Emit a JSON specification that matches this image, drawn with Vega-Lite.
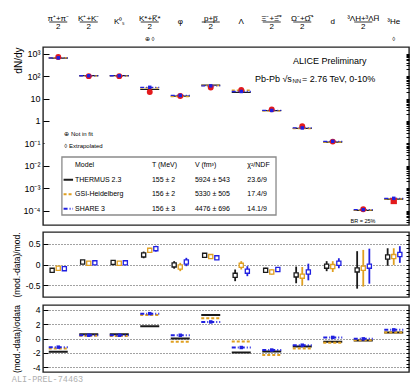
{
"$schema":"https://vega.github.io/schema/vega-lite/v6.json",
"padding":{"left":11,"top":13,"right":7,"bottom":0},
"config":{"font":"Liberation Sans","view":{"stroke":"#222","strokeWidth":1.4},"axis":{"labelFont":"Liberation Sans","titleFont":"Liberation Sans","labelColor":"#000","titleColor":"#000","titleFontWeight":"normal","domain":false,"tickColor":"#000","tickWidth":1},"text":{"font":"Liberation Sans"}},
"spacing":5,
"title":{"text":"ALI-PREL-74463","orient":"bottom","anchor":"start","font":"Liberation Mono","fontSize":8.5,"fontWeight":"normal","color":"#b0b0b0","offset":2},
"datasets":{
"species":[
{"i":0,"sp":"pi","num":"π⁺+π⁻","den":"2","single":null,"sym":null,"val":720},
{"i":1,"sp":"K","num":"K⁺+K⁻","den":"2","single":null,"sym":null,"val":100},
{"i":2,"sp":"K0s","num":null,"den":null,"single":"K⁰ₛ","sym":null,"val":100},
{"i":3,"sp":"Kstar","num":"K*+K̅*","den":"2","single":null,"sym":"⊕ ◊","val":19.7},
{"i":4,"sp":"phi","num":null,"den":null,"single":"φ","sym":null,"val":13},
{"i":5,"sp":"p","num":"p+p̅","den":"2","single":null,"sym":null,"val":31},
{"i":6,"sp":"Lambda","num":null,"den":null,"single":"Λ","sym":null,"val":24},
{"i":7,"sp":"Xi","num":"Ξ⁻+Ξ̅⁺","den":"2","single":null,"sym":null,"val":3.3},
{"i":8,"sp":"Omega","num":"Ω⁻+Ω̅⁺","den":"2","single":null,"sym":null,"val":0.58},
{"i":9,"sp":"d","num":null,"den":null,"single":"d","sym":null,"val":0.12},
{"i":10,"sp":"H3L","num":"³ΛH+³ΛH̅","den":"2","single":null,"sym":null,"val":0.000115},
{"i":11,"sp":"He3","num":null,"den":null,"single":"³He","sym":"◊","val":0.00027}
],
"models":[
{"i":0,"sp":"pi","model":"THERMUS","dndy":632,"r":-0.14,"lo":-0.17,"hi":-0.11,"s":-1.85},
{"i":0,"sp":"pi","model":"GSI","dndy":661,"r":-0.09,"lo":-0.12,"hi":-0.06,"s":-1.4},
{"i":0,"sp":"pi","model":"SHARE","dndy":655,"r":-0.10,"lo":-0.13,"hi":-0.07,"s":-1.2},
{"i":1,"sp":"K","model":"THERMUS","dndy":106,"r":0.06,"lo":0.03,"hi":0.09,"s":0.6},
{"i":1,"sp":"K","model":"GSI","dndy":103,"r":0.03,"lo":0.0,"hi":0.06,"s":0.37},
{"i":1,"sp":"K","model":"SHARE","dndy":104,"r":0.04,"lo":0.01,"hi":0.07,"s":0.45},
{"i":2,"sp":"K0s","model":"THERMUS","dndy":105,"r":0.05,"lo":0.02,"hi":0.08,"s":0.6},
{"i":2,"sp":"K0s","model":"GSI","dndy":103,"r":0.03,"lo":0.0,"hi":0.06,"s":0.35},
{"i":2,"sp":"K0s","model":"SHARE","dndy":104,"r":0.04,"lo":0.01,"hi":0.07,"s":0.45},
{"i":3,"sp":"Kstar","model":"THERMUS","dndy":25.6,"r":0.23,"lo":0.15,"hi":0.31,"s":1.7},
{"i":3,"sp":"Kstar","model":"GSI","dndy":29.8,"r":0.34,"lo":0.28,"hi":0.40,"s":3.25},
{"i":3,"sp":"Kstar","model":"SHARE","dndy":31.8,"r":0.38,"lo":0.31,"hi":0.45,"s":3.45},
{"i":4,"sp":"phi","model":"THERMUS","dndy":12.9,"r":-0.01,"lo":-0.10,"hi":0.08,"s":0.0},
{"i":4,"sp":"phi","model":"GSI","dndy":12.3,"r":-0.06,"lo":-0.16,"hi":0.04,"s":-0.45},
{"i":4,"sp":"phi","model":"SHARE","dndy":13.8,"r":0.06,"lo":-0.04,"hi":0.16,"s":0.45},
{"i":5,"sp":"p","model":"THERMUS","dndy":39.7,"r":0.22,"lo":0.19,"hi":0.25,"s":3.25},
{"i":5,"sp":"p","model":"GSI","dndy":38.3,"r":0.19,"lo":0.16,"hi":0.22,"s":2.8},
{"i":5,"sp":"p","model":"SHARE","dndy":36.9,"r":0.16,"lo":0.13,"hi":0.19,"s":2.3},
{"i":6,"sp":"Lambda","model":"THERMUS","dndy":19.0,"r":-0.26,"lo":-0.40,"hi":-0.12,"s":-1.95},
{"i":6,"sp":"Lambda","model":"GSI","dndy":23.5,"r":-0.02,"lo":-0.12,"hi":0.08,"s":-0.4},
{"i":6,"sp":"Lambda","model":"SHARE","dndy":20.7,"r":-0.16,"lo":-0.28,"hi":-0.04,"s":-1.25},
{"i":7,"sp":"Xi","model":"THERMUS","dndy":2.89,"r":-0.14,"lo":-0.20,"hi":-0.08,"s":-1.8},
{"i":7,"sp":"Xi","model":"GSI","dndy":2.80,"r":-0.18,"lo":-0.24,"hi":-0.12,"s":-2.3},
{"i":7,"sp":"Xi","model":"SHARE","dndy":2.95,"r":-0.12,"lo":-0.18,"hi":-0.06,"s":-1.6},
{"i":8,"sp":"Omega","model":"THERMUS","dndy":0.464,"r":-0.25,"lo":-0.45,"hi":-0.05,"s":-1.1},
{"i":8,"sp":"Omega","model":"GSI","dndy":0.453,"r":-0.28,"lo":-0.50,"hi":-0.06,"s":-1.4},
{"i":8,"sp":"Omega","model":"SHARE","dndy":0.49,"r":-0.18,"lo":-0.38,"hi":0.02,"s":-0.93},
{"i":9,"sp":"d","model":"THERMUS","dndy":0.115,"r":-0.04,"lo":-0.16,"hi":0.08,"s":-0.45},
{"i":9,"sp":"d","model":"GSI","dndy":0.114,"r":-0.05,"lo":-0.18,"hi":0.08,"s":-0.6},
{"i":9,"sp":"d","model":"SHARE","dndy":0.124,"r":0.03,"lo":-0.09,"hi":0.15,"s":0.15},
{"i":10,"sp":"H3L","model":"THERMUS","dndy":0.000102,"r":-0.13,"lo":-0.58,"hi":0.32,"s":-0.28},
{"i":10,"sp":"H3L","model":"GSI","dndy":0.0001055,"r":-0.09,"lo":-0.53,"hi":0.35,"s":-0.25},
{"i":10,"sp":"H3L","model":"SHARE","dndy":0.0001105,"r":-0.04,"lo":-0.46,"hi":0.38,"s":-0.05},
{"i":11,"sp":"He3","model":"THERMUS","dndy":0.000329,"r":0.18,"lo":-0.03,"hi":0.39,"s":0.83},
{"i":11,"sp":"He3","model":"GSI","dndy":0.000333,"r":0.19,"lo":-0.01,"hi":0.39,"s":0.85},
{"i":11,"sp":"He3","model":"SHARE","dndy":0.000355,"r":0.24,"lo":0.04,"hi":0.44,"s":1.2}
],
"legend":[
{"row":0,"key":"hdr","model":"Model","T":"T (MeV)","V":"V (fm³)","chi2":"χ²/NDF"},
{"row":1,"key":"THERMUS","model":"THERMUS 2.3","T":"155 ± 2","V":"5924 ± 543","chi2":"23.6/9"},
{"row":2,"key":"GSI","model":"GSI-Heidelberg","T":"156 ± 2","V":"5330 ± 505","chi2":"17.4/9"},
{"row":3,"key":"SHARE","model":"SHARE 3","T":"156 ± 3","V":"4476 ± 696","chi2":"14.1/9"}
]
},
"vconcat":[
{
"width":366,"height":178,
"layer":[
{"layer":[
{"data":{"values":[{}]},"mark":{"type":"rect","fill":"white"},"encoding":{"x":{"datum":-0.45,"type":"quantitative","axis":null},"x2":{"datum":2.45},"y":{"datum":0.54,"type":"quantitative","axis":null},"y2":{"datum":0.0248}}},
{"data":{"values":[{}]},"mark":{"type":"rect","fill":"white","stroke":"#8a8a8a","strokeWidth":1.3},"encoding":{"x":{"datum":0.12,"type":"quantitative","axis":null},"x2":{"datum":7.14},"y":{"datum":0.02477,"type":"quantitative","axis":null},"y2":{"datum":0.0000641}}},
{"data":{"name":"models"},"mark":{"type":"point","shape":"M-1,0L1,0","size":361,"strokeWidth":1.3,"opacity":1},"encoding":{
"x":{"field":"i","type":"quantitative","scale":{"domain":[-0.5,11.5],"nice":false,"zero":false},"axis":{"orient":"bottom","values":[0.5,1.5,2.5,3.5,4.5,5.5,6.5,7.5,8.5,9.5,10.5],"grid":true,"gridDash":[1,2],"gridColor":"#888","labels":false,"ticks":false,"domain":false,"title":null}},
"y":{"field":"dndy","type":"quantitative","scale":{"type":"log","domain":[0.0000229,1995],"nice":false},"axis":{"orient":"left","values":[0.0001,0.001,0.01,0.1,1,10,100,1000],"labelExpr":"datum.value >= 999 ? '10³' : datum.value >= 99 ? '10²' : datum.value >= 9 ? '10' : datum.value >= 0.9 ? '1' : datum.value >= 0.09 ? '10⁻¹' : datum.value >= 0.009 ? '10⁻²' : datum.value >= 0.0009 ? '10⁻³' : '10⁻⁴'","labelFontSize":9,"tickSize":-6,"labelPadding":9,"grid":false,"title":"dN/dy","titleFontSize":10,"titleAnchor":"end","titlePadding":0,"minExtent":20,"maxExtent":20}},
"color":{"field":"model","type":"nominal","scale":{"domain":["THERMUS","GSI","SHARE"],"range":["#1a1a1a","#e0a020","#2020e0"]},"legend":null},
"strokeDash":{"field":"model","type":"nominal","scale":{"domain":["THERMUS","GSI","SHARE"],"range":[[1,0],[3,2],[4,2,1,2]]},"legend":null}}},
{"data":{"name":"species"},"transform":[{"filter":"datum.i < 11"}],"mark":{"type":"point","shape":"circle","filled":true,"color":"#e31a1c","size":35,"opacity":1},"encoding":{"x":{"field":"i","type":"quantitative","axis":null},"y":{"field":"val","type":"quantitative","axis":{"orient":"right","values":[0.00003,0.00004,0.00005,0.00006,0.00007,0.00008,0.00009,0.0001,0.0002,0.0003,0.0004,0.0005,0.0006,0.0007,0.0008,0.0009,0.001,0.002,0.003,0.004,0.005,0.006,0.007,0.008,0.009,0.01,0.02,0.03,0.04,0.05,0.06,0.07,0.08,0.09,0.1,0.2,0.3,0.4,0.5,0.6,0.7,0.8,0.9,1,2,3,4,5,6,7,8,9,10,20,30,40,50,60,70,80,90,100,200,300,400,500,600,700,800,900,1000],"labels":false,"tickSize":-3,"grid":false,"title":null}}}},
{"data":{"name":"species"},"transform":[{"filter":"datum.i == 11"}],"mark":{"type":"point","shape":"square","filled":true,"color":"#e31a1c","size":40,"opacity":1},"encoding":{"x":{"field":"i","type":"quantitative","axis":null},"y":{"field":"val","type":"quantitative","axis":null}}},
{"data":{"name":"models"},"transform":[{"filter":"datum.model == 'SHARE'"}],"mark":{"type":"point","shape":"square","filled":true,"color":"#2020e0","size":12,"opacity":1},"encoding":{"x":{"field":"i","type":"quantitative","axis":null},"y":{"field":"dndy","type":"quantitative","axis":null}}},
{"data":{"name":"species"},"transform":[{"filter":"isValid(datum.num)"}],"mark":{"type":"text","fontSize":8,"baseline":"middle"},"encoding":{"x":{"field":"i","type":"quantitative","axis":null},"y":{"datum":37240,"type":"quantitative","axis":null},"text":{"field":"num"}}},
{"data":{"name":"species"},"transform":[{"filter":"isValid(datum.num)"}],"mark":{"type":"point","shape":"M-1,0L1,0","size":324,"strokeWidth":0.8,"color":"#000","opacity":1},"encoding":{"x":{"field":"i","type":"quantitative","axis":null},"y":{"datum":26000,"type":"quantitative","axis":null}}},
{"data":{"name":"species"},"transform":[{"filter":"isValid(datum.den)"}],"mark":{"type":"text","fontSize":8,"baseline":"middle"},"encoding":{"x":{"field":"i","type":"quantitative","axis":null},"y":{"datum":15560,"type":"quantitative","axis":null},"text":{"field":"den"}}},
{"data":{"name":"species"},"transform":[{"filter":"isValid(datum.single)"}],"mark":{"type":"text","fontSize":8,"baseline":"middle"},"encoding":{"x":{"field":"i","type":"quantitative","axis":null},"y":{"datum":26000,"type":"quantitative","axis":null},"text":{"field":"single"}}},
{"data":{"name":"species"},"transform":[{"filter":"isValid(datum.sym)"}],"mark":{"type":"text","fontSize":6,"baseline":"middle"},"encoding":{"x":{"field":"i","type":"quantitative","axis":null},"y":{"datum":4775,"type":"quantitative","axis":null},"text":{"field":"sym"}}},
{"data":{"values":[{}]},"mark":{"type":"text","fontSize":6,"align":"left","baseline":"middle","text":"⊕  Not in fit"},"encoding":{"x":{"datum":0.2,"type":"quantitative","axis":null},"y":{"datum":0.263,"type":"quantitative","axis":null}}},
{"data":{"values":[{}]},"mark":{"type":"text","fontSize":6,"align":"left","baseline":"middle","text":"◊  Extrapolated"},"encoding":{"x":{"datum":0.2,"type":"quantitative","axis":null},"y":{"datum":0.074,"type":"quantitative","axis":null}}},
{"data":{"values":[{}]},"mark":{"type":"text","fontSize":9,"align":"center","baseline":"middle","text":"ALICE Preliminary"},"encoding":{"x":{"datum":8.9,"type":"quantitative","axis":null},"y":{"datum":450,"type":"quantitative","axis":null}}},
{"data":{"values":[{}]},"mark":{"type":"text","fontSize":9,"align":"right","baseline":"middle","text":"Pb-Pb √s"},"encoding":{"x":{"datum":7.66,"type":"quantitative","axis":null},"y":{"datum":74.6,"type":"quantitative","axis":null}}},
{"data":{"values":[{}]},"mark":{"type":"text","fontSize":6,"align":"left","baseline":"middle","text":"NN"},"encoding":{"x":{"datum":7.68,"type":"quantitative","axis":null},"y":{"datum":57.7,"type":"quantitative","axis":null}}},
{"data":{"values":[{}]},"mark":{"type":"text","fontSize":9,"align":"left","baseline":"middle","text":"= 2.76 TeV, 0-10%"},"encoding":{"x":{"datum":7.99,"type":"quantitative","axis":null},"y":{"datum":74.6,"type":"quantitative","axis":null}}},
{"data":{"values":[{}]},"mark":{"type":"text","fontSize":5.5,"align":"center","baseline":"middle","text":"BR = 25%"},"encoding":{"x":{"datum":9.99,"type":"quantitative","axis":null},"y":{"datum":0.0000347,"type":"quantitative","axis":null}}}
]},
{"data":{"name":"legend"},"layer":[
{"transform":[{"filter":"datum.row > 0"}],"mark":{"type":"point","shape":"M-1,0L1,0","size":90,"strokeWidth":2,"opacity":1},"encoding":{"x":{"datum":0.33,"type":"quantitative","axis":null},"y":{"field":"row","type":"quantitative","scale":{"domain":[-8.18,4.12],"reverse":true,"nice":false,"zero":false},"axis":null},"color":{"field":"key","type":"nominal","scale":{"domain":["THERMUS","GSI","SHARE"],"range":["#1a1a1a","#e0a020","#2020e0"]},"legend":null},"strokeDash":{"field":"key","type":"nominal","scale":{"domain":["THERMUS","GSI","SHARE"],"range":[[1,0],[3,2],[4,2,1,2]]},"legend":null}}},
{"mark":{"type":"text","align":"left","baseline":"middle","fontSize":7},"encoding":{"x":{"datum":0.55,"type":"quantitative","axis":null},"y":{"field":"row","type":"quantitative","axis":null},"text":{"field":"model"}}},
{"mark":{"type":"text","align":"left","baseline":"middle","fontSize":7},"encoding":{"x":{"datum":3.07,"type":"quantitative","axis":null},"y":{"field":"row","type":"quantitative","axis":null},"text":{"field":"T"}}},
{"mark":{"type":"text","align":"left","baseline":"middle","fontSize":7},"encoding":{"x":{"datum":4.48,"type":"quantitative","axis":null},"y":{"field":"row","type":"quantitative","axis":null},"text":{"field":"V"}}},
{"mark":{"type":"text","align":"left","baseline":"middle","fontSize":7},"encoding":{"x":{"datum":6.2,"type":"quantitative","axis":null},"y":{"field":"row","type":"quantitative","axis":null},"text":{"field":"chi2"}}}
]}
],
"resolve":{"scale":{"y":"independent"}}
},
{
"width":366,"height":65,
"data":{"name":"models"},
"layer":[
{"mark":{"type":"rule","strokeWidth":1.8},"encoding":{
"x":{"field":"sp","type":"nominal","scale":{"domain":["pi","K","K0s","Kstar","phi","p","Lambda","Xi","Omega","d","H3L","He3"],"paddingInner":0,"paddingOuter":0},"axis":{"orient":"bottom","bandPosition":0,"grid":true,"gridDash":[1,2],"gridColor":"#444","labels":false,"ticks":false,"domain":false,"title":null}},
"xOffset":{"field":"model","type":"nominal","scale":{"domain":["THERMUS","GSI","SHARE"],"paddingInner":0,"paddingOuter":1.04}},
"y":{"field":"lo","type":"quantitative","scale":{"domain":[-0.78,0.78],"nice":false,"zero":false},"axis":{"orient":"left","values":[-0.5,0,0.5],"labelExpr":"'' + datum.value","labelFontSize":8.5,"grid":true,"gridDash":[1,2],"gridColor":"#444","tickSize":-5,"labelPadding":8,"title":"(mod.-data)/mod.","titleFontSize":8.5,"titlePadding":1.5,"minExtent":20,"maxExtent":20}},
"y2":{"field":"hi"},
"color":{"field":"model","type":"nominal","scale":{"domain":["THERMUS","GSI","SHARE"],"range":["#1a1a1a","#e0a020","#2020e0"]},"legend":null}}},
{"mark":{"type":"point","shape":"square","filled":false,"fill":"white","size":17,"strokeWidth":1.3,"opacity":1},"encoding":{
"x":{"field":"sp","type":"nominal","axis":null},
"xOffset":{"field":"model","type":"nominal"},
"y":{"field":"r","type":"quantitative","axis":{"orient":"right","values":[-0.7,-0.6,-0.5,-0.4,-0.3,-0.2,-0.1,0,0.1,0.2,0.3,0.4,0.5,0.6,0.7],"labels":false,"tickSize":-3,"grid":false,"title":null}},
"color":{"field":"model","type":"nominal","legend":null}}}
]
},
{
"width":366,"height":67,
"data":{"name":"models"},
"layer":[
{"mark":{"type":"point","shape":"M-1,0L1,0","size":361,"strokeWidth":2,"opacity":1},"encoding":{
"x":{"field":"sp","type":"nominal","scale":{"domain":["pi","K","K0s","Kstar","phi","p","Lambda","Xi","Omega","d","H3L","He3"],"paddingInner":0,"paddingOuter":0},"axis":{"orient":"bottom","bandPosition":0,"grid":true,"gridDash":[1,2],"gridColor":"#444","labels":false,"ticks":false,"domain":false,"title":null}},
"y":{"field":"s","type":"quantitative","scale":{"domain":[-4.65,4.65],"nice":false,"zero":false},"axis":{"orient":"left","values":[-4,-2,0,2,4],"labelExpr":"'' + datum.value","labelFontSize":8.5,"grid":true,"gridDash":[1,2],"gridColor":"#444","tickSize":-5,"labelPadding":8,"title":"(mod.-data)/σdata","titleFontSize":8.5,"titlePadding":1.5,"minExtent":20,"maxExtent":20}},
"color":{"field":"model","type":"nominal","scale":{"domain":["THERMUS","GSI","SHARE"],"range":["#1a1a1a","#e0a020","#2020e0"]},"legend":null},
"strokeDash":{"field":"model","type":"nominal","scale":{"domain":["THERMUS","GSI","SHARE"],"range":[[1,0],[3,2],[4,2,1,2]]},"legend":null}}},
{"transform":[{"filter":"datum.model == 'SHARE'"}],"mark":{"type":"point","shape":"square","filled":true,"color":"#2020e0","size":12,"opacity":1},"encoding":{
"x":{"field":"sp","type":"nominal","axis":null},
"y":{"field":"s","type":"quantitative","axis":{"orient":"right","values":[-4,-3.5,-3,-2.5,-2,-1.5,-1,-0.5,0,0.5,1,1.5,2,2.5,3,3.5,4],"labels":false,"tickSize":-3,"grid":false,"title":null}}}}
]
}
]
}
